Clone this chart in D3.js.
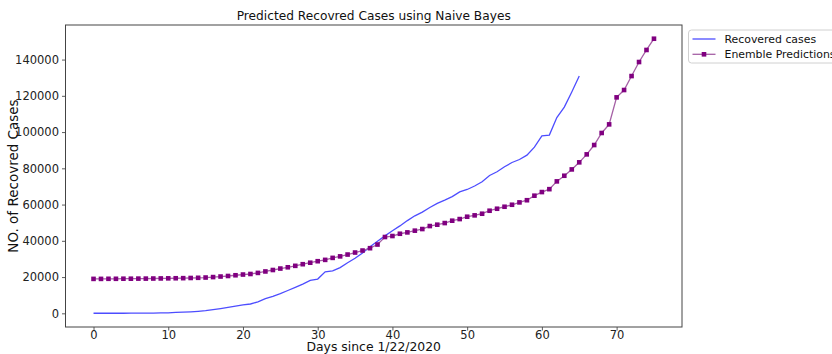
<!DOCTYPE html>
<html>
<head>
<meta charset="utf-8">
<script src="https://cdn.jsdelivr.net/npm/d3@7"></script>
<style>
  body { margin: 0; background: #fff; }
  svg { font-family: "DejaVu Sans", sans-serif; }
</style>
</head>
<body>
<svg id="chart" width="832" height="354"></svg>
<script>
// recovered cases since 1/22/2020 (day 0 .. 65)
const recovered = [
  28, 30, 36, 39, 52, 61, 107, 126, 143, 222,
  284, 472, 623, 852, 1124, 1487, 2011, 2616, 3244, 3946,
  4683, 5150, 6295, 8058, 9395, 10865, 12583, 14352, 16121, 18177,
  18890, 22886, 23394, 25227, 27905, 30384, 33277, 36711, 39782, 42716,
  45602, 48228, 51170, 53796, 55865, 58358, 60694, 62494, 64404, 67003,
  68324, 70251, 72624, 76034, 78088, 80840, 83207, 84854, 87256, 91676,
  97882, 98351, 107990, 113787, 122150, 130915
];

// ensemble predictions (day 0 .. 75)
const predictions = [
  19000, 19000, 19050, 19050, 19100, 19100, 19150, 19150, 19200, 19250,
  19300, 19350, 19400, 19500, 19600, 19750, 20000, 20300, 20600, 21000,
  21400, 21700, 22300, 23100, 23900, 24700, 25400, 26200, 27100, 27920,
  28750, 29490, 30590, 31420, 32430, 33540, 34640, 35930, 37950, 42100,
  42650, 43900, 44650, 45600, 46500, 48150, 48900, 49800, 51100, 52000,
  53300, 54050, 54950, 56600, 57700, 58800, 59900, 61200, 62400, 64900,
  66900, 68500, 72800, 75900, 79400, 83300, 87700, 92850, 99500, 104250,
  119150, 123200, 130900, 138650, 145300, 151500
];

const xTicks = [0, 10, 20, 30, 40, 50, 60, 70];
const yTicks = [0, 20000, 40000, 60000, 80000, 100000, 120000, 140000];
const seriesNames = ["Recovered cases", "Enemble Predictions"];

const svg = d3.select("#chart");
const plotL = 65.5, plotR = 682, plotT = 25, plotB = 327;

// matplotlib-style 5% margins
const xMax = predictions.length - 1;
const xPad = xMax * 0.05;
const yMin = d3.min(recovered.concat(predictions));
const yMax = d3.max(recovered.concat(predictions));
const yPad = (yMax - yMin) * 0.05;

const x = d3.scaleLinear().domain([-xPad, xMax + xPad]).range([plotL, plotR]);
const y = d3.scaleLinear().domain([yMin - yPad, yMax + yPad]).range([plotB, plotT]);

// axes
const xAxis = svg.append("g")
  .attr("transform", `translate(0,${plotB})`)
  .call(d3.axisBottom(x).tickValues(xTicks).tickSize(3.5).tickPadding(0).tickFormat(d3.format("d")));
const yAxis = svg.append("g")
  .attr("transform", `translate(${plotL},0)`)
  .call(d3.axisLeft(y).tickValues(yTicks).tickSize(3.5).tickPadding(3).tickFormat(d3.format("d")));

[xAxis, yAxis].forEach(a => {
  a.select(".domain").remove();
  a.selectAll(".tick line").attr("stroke", "#333").attr("stroke-width", 0.8);
  a.selectAll(".tick text")
    .attr("fill", "#222")
    .style("font-size", "11.5px")
    .style("font-family", "'DejaVu Sans', sans-serif");
});

// frame
svg.append("rect")
  .attr("x", plotL).attr("y", plotT)
  .attr("width", plotR - plotL).attr("height", plotB - plotT)
  .attr("fill", "none")
  .attr("stroke", "#444")
  .attr("stroke-width", 1);

// lines
const line = d3.line().x((d, i) => x(i)).y(d => y(d));

svg.append("path")
  .datum(recovered)
  .attr("d", line)
  .attr("fill", "none")
  .attr("stroke", "#4d4dff")
  .attr("stroke-width", 1.3);

svg.append("path")
  .datum(predictions)
  .attr("d", line)
  .attr("fill", "none")
  .attr("stroke", "#a560a5")
  .attr("stroke-width", 1.3);

svg.append("g").selectAll("rect")
  .data(predictions)
  .enter()
  .append("rect")
  .attr("x", (d, i) => x(i) - 2.3)
  .attr("y", d => y(d) - 2.3)
  .attr("width", 4.6)
  .attr("height", 4.6)
  .attr("fill", "#800080");

// title and labels
svg.append("text")
  .attr("x", (plotL + plotR) / 2)
  .attr("y", 20)
  .attr("text-anchor", "middle")
  .attr("fill", "#111")
  .style("font-size", "12.2px")
  .text("Predicted Recovred Cases using Naive Bayes");

svg.append("text")
  .attr("x", (plotL + plotR) / 2)
  .attr("y", 351)
  .attr("text-anchor", "middle")
  .attr("fill", "#111")
  .style("font-size", "12.4px")
  .text("Days since 1/22/2020");

svg.append("text")
  .attr("transform", `translate(18,${(plotT + plotB) / 2}) rotate(-90)`)
  .attr("text-anchor", "middle")
  .attr("fill", "#111")
  .style("font-size", "13.5px")
  .text("NO. of Recovred Cases");

// legend
const legend = svg.append("g").attr("transform", "translate(688.5,30)");
legend.append("rect")
  .attr("x", 0).attr("y", 0)
  .attr("width", 160).attr("height", 33)
  .attr("rx", 3)
  .attr("fill", "#fff")
  .attr("stroke", "#d0d0d0");

legend.append("line")
  .attr("x1", 4).attr("x2", 27).attr("y1", 9).attr("y2", 9)
  .attr("stroke", "#4d4dff").attr("stroke-width", 1.3);
legend.append("line")
  .attr("x1", 4).attr("x2", 27).attr("y1", 24.3).attr("y2", 24.3)
  .attr("stroke", "#a560a5").attr("stroke-width", 1.3);
legend.append("rect")
  .attr("x", 13.2).attr("y", 22).attr("width", 4.6).attr("height", 4.6)
  .attr("fill", "#800080");

legend.selectAll("text.lbl")
  .data(seriesNames)
  .enter()
  .append("text")
  .attr("class", "lbl")
  .attr("x", 36)
  .attr("y", (d, i) => 13 + i * 15.3)
  .attr("fill", "#111")
  .style("font-size", "10.9px")
  .text(d => d);
</script>
</body>
</html>
